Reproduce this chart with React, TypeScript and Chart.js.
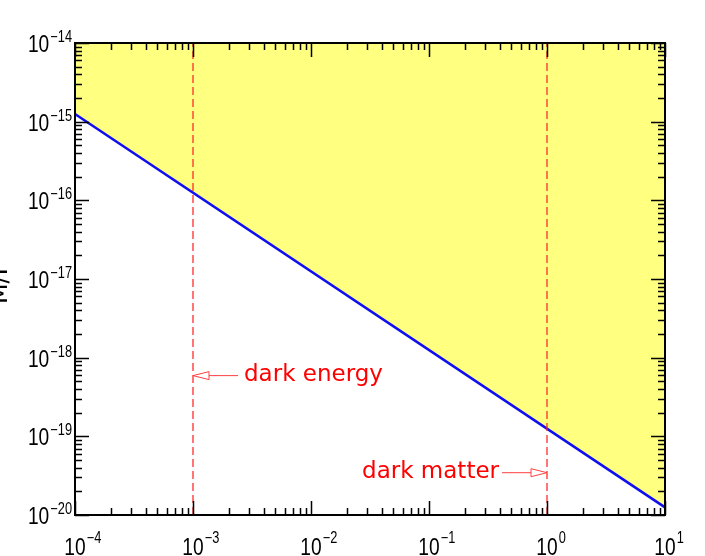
import React, { useEffect, useRef } from "react";
import { Chart, registerables } from "chart.js";

Chart.register(...registerables);

// ---- data ----
const xDecades = [-4, -3, -2, -1, 0, 1];
const yDecades = [-20, -19, -18, -17, -16, -15, -14];
const minorMultipliers = [2, 3, 4, 5, 6, 7, 8, 9];

const boundX = [1e-4, 1e1];
const boundY = [1.25e-15, 1.25e-20];

const darkEnergyX = 1e-3;
const darkMatterX = 1;
const markerYRange = [1e-20, 1e-14];

const annotationLabels = ["dark energy", "dark matter"];
const annotationX = [1e-3, 1];
const annotationY = [6e-19, 3.5e-20];
const annotationSide = ["right", "left"];

const yAxisTitle = "M/Γ";

const FONT_TICK = "'Liberation Sans', Arial, sans-serif";
const FONT_NOTE = "'DejaVu Sans', sans-serif";
const SQUEEZE = 0.8;

function drawNarrow(ctx: any, text: string, x: number, y: number, align: "left" | "right") {
  const w = ctx.measureText(text).width * SQUEEZE;
  const startX = align === "left" ? x : x - w;
  ctx.save();
  ctx.translate(startX, y);
  ctx.scale(SQUEEZE, 1);
  ctx.textAlign = "left";
  ctx.fillText(text, 0, 0);
  ctx.restore();
  return w;
}

const axesPlugin = {
  id: "customAxes",
  afterDraw(chart: any) {
    const { ctx, chartArea, scales } = chart;
    const xs = scales.x;
    const ys = scales.y;
    const { left, right, top, bottom } = chartArea;
    ctx.save();

    // annotations
    ctx.strokeStyle = "#ff4040";
    ctx.fillStyle = "#ff0000";
    ctx.lineWidth = 1;
    annotationLabels.forEach((label, i) => {
      const px = xs.getPixelForValue(annotationX[i]);
      const py = ys.getPixelForValue(annotationY[i]);
      ctx.font = `23px ${FONT_NOTE}`;
      const headLen = 16;
      const headHalf = 4;
      const shaft = 29;
      const dir = annotationSide[i] === "right" ? 1 : -1;
      const tailX = px + dir * (shaft + headLen);
      const baseX = px + dir * headLen;
      ctx.beginPath();
      ctx.moveTo(tailX, py + 0.5);
      ctx.lineTo(baseX, py + 0.5);
      ctx.stroke();
      ctx.beginPath();
      ctx.moveTo(px, py + 0.5);
      ctx.lineTo(baseX, py - headHalf + 0.5);
      ctx.lineTo(baseX, py + headHalf + 0.5);
      ctx.closePath();
      ctx.stroke();
      ctx.textBaseline = "middle";
      if (dir === 1) {
        ctx.textAlign = "left";
        ctx.fillText(label, tailX + 6, py);
      } else {
        ctx.textAlign = "right";
        ctx.fillText(label, tailX - 3, py);
      }
    });

    // frame
    ctx.strokeStyle = "#000";
    ctx.lineWidth = 2;
    ctx.strokeRect(left, top, right - left, bottom - top);

    // ticks
    ctx.lineWidth = 1.5;
    const major = 14;
    const minor = 7;
    ctx.beginPath();
    xDecades.forEach((d) => {
      const p = Math.round(xs.getPixelForValue(Math.pow(10, d))) + 0.5;
      ctx.moveTo(p, bottom);
      ctx.lineTo(p, bottom - major);
      ctx.moveTo(p, top);
      ctx.lineTo(p, top + major);
      if (d < xDecades[xDecades.length - 1]) {
        minorMultipliers.forEach((m) => {
          const q = Math.round(xs.getPixelForValue(m * Math.pow(10, d))) + 0.5;
          ctx.moveTo(q, bottom);
          ctx.lineTo(q, bottom - minor);
          ctx.moveTo(q, top);
          ctx.lineTo(q, top + minor);
        });
      }
    });
    yDecades.forEach((d) => {
      const p = Math.round(ys.getPixelForValue(Math.pow(10, d))) + 0.5;
      ctx.moveTo(left, p);
      ctx.lineTo(left + major, p);
      ctx.moveTo(right, p);
      ctx.lineTo(right - major, p);
      if (d < yDecades[yDecades.length - 1]) {
        minorMultipliers.forEach((m) => {
          const q = Math.round(ys.getPixelForValue(m * Math.pow(10, d))) + 0.5;
          ctx.moveTo(left, q);
          ctx.lineTo(left + minor, q);
          ctx.moveTo(right, q);
          ctx.lineTo(right - minor, q);
        });
      }
    });
    ctx.stroke();

    // tick labels
    ctx.fillStyle = "#000";
    ctx.textBaseline = "alphabetic";
    const baseFont = `24px ${FONT_TICK}`;
    const supFont = `16px ${FONT_TICK}`;
    const sup = (d: number) => (d < 0 ? "\u2212" + Math.abs(d) : String(d));
    xDecades.forEach((d) => {
      const p = xs.getPixelForValue(Math.pow(10, d));
      ctx.font = baseFont;
      const bw = ctx.measureText("10").width * SQUEEZE;
      drawNarrow(ctx, "10", p - bw / 2, 555, "left");
      ctx.font = supFont;
      drawNarrow(ctx, sup(d), p + bw / 2 + 1, 543, "left");
    });
    yDecades.forEach((d) => {
      const p = ys.getPixelForValue(Math.pow(10, d));
      ctx.font = supFont;
      const sw = drawNarrow(ctx, sup(d), left - 3, p - 1, "right");
      ctx.font = baseFont;
      drawNarrow(ctx, "10", left - 4 - sw, p + 9, "right");
    });

    // y axis title
    ctx.save();
    ctx.translate(7, (top + bottom) / 2 + 4);
    ctx.rotate(-Math.PI / 2);
    ctx.font = `24px ${FONT_NOTE}`;
    ctx.textAlign = "center";
    ctx.textBaseline = "alphabetic";
    ctx.fillText(yAxisTitle, 0, 0);
    ctx.restore();

    ctx.restore();
  },
};

export default function App() {
  const ref = useRef<HTMLCanvasElement>(null);
  useEffect(() => {
    document.body.style.margin = "0";
    const canvas = ref.current!;
    const chart = new Chart(canvas, {
      type: "line",
      data: {
        datasets: [
          {
            label: "bound",
            data: boundX.map((x, i) => ({ x, y: boundY[i] })),
            borderColor: "#1010ee",
            borderWidth: 2.5,
            backgroundColor: "#ffff80",
            fill: "end",
            pointRadius: 0,
            order: 2,
          },
          {
            label: "dark energy",
            data: markerYRange.map((y) => ({ x: darkEnergyX, y })),
            borderColor: "rgba(255,40,40,0.85)",
            borderWidth: 1.5,
            borderDash: [8, 4],
            pointRadius: 0,
            fill: false,
            order: 1,
          },
          {
            label: "dark matter",
            data: markerYRange.map((y) => ({ x: darkMatterX, y })),
            borderColor: "rgba(255,40,40,0.85)",
            borderWidth: 1.5,
            borderDash: [8, 4],
            pointRadius: 0,
            fill: false,
            order: 1,
          },
        ],
      },
      options: {
        animation: false,
        responsive: false,
        devicePixelRatio: 1,
        layout: { padding: { left: 75, top: 43, right: 40, bottom: 41 } },
        plugins: {
          legend: { display: false },
          tooltip: { enabled: false },
          filler: { drawTime: "beforeDatasetsDraw" } as any,
        },
        scales: {
          x: {
            type: "logarithmic",
            min: Math.pow(10, xDecades[0]),
            max: Math.pow(10, xDecades[xDecades.length - 1]),
            display: false,
          },
          y: {
            type: "logarithmic",
            min: Math.pow(10, yDecades[0]),
            max: Math.pow(10, yDecades[yDecades.length - 1]),
            display: false,
          },
        },
      },
      plugins: [axesPlugin],
    });
    return () => chart.destroy();
  }, []);
  return (
    <div style={{ position: "fixed", left: 0, top: 0, width: 705, height: 556, background: "#fff" }}>
      <canvas ref={ref} width={705} height={556} style={{ display: "block" }} />
    </div>
  );
}
